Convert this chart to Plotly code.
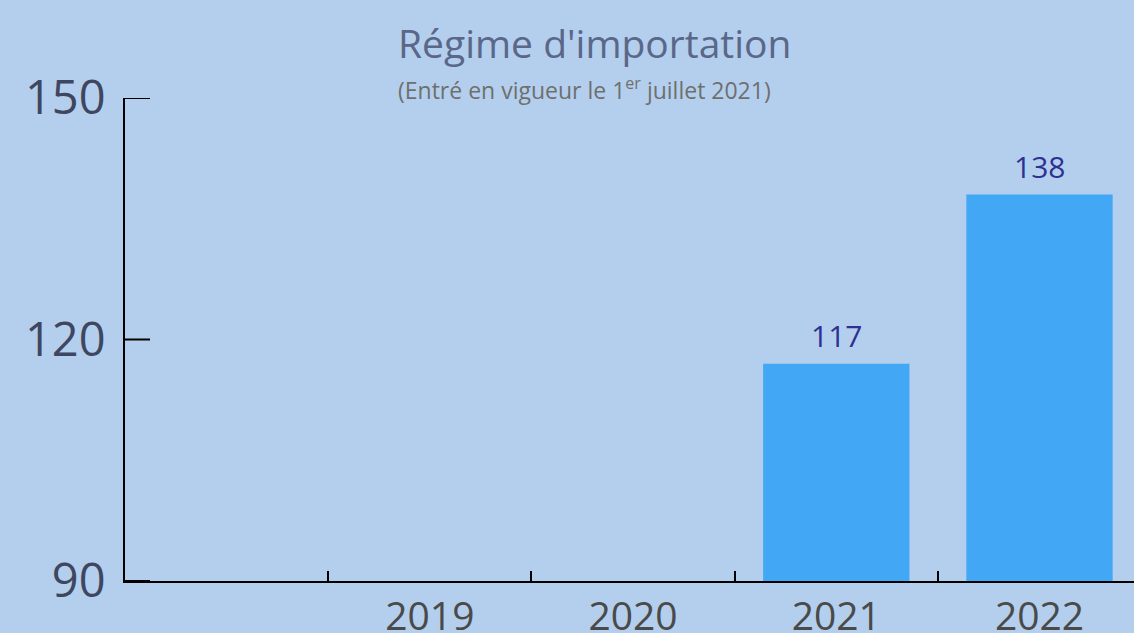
import plotly.graph_objects as go

# Data
categories = [" ", "2019", "2020", "2021", "2022"]
values = [None, None, None, 117, 138]
y_ticks = [90, 120, 150]

title_text = "Régime d'importation"
subtitle_text = "(Entré en vigueur le 1<sup>er</sup> juillet 2021)"

BG = "#b3cfed"
BAR = "#42a7f5"
FONT = "Open Sans"
W, H = 1134, 633
ML, MR, MT, MB = 125, 0, 98, 52

fig = go.Figure()
fig.add_trace(go.Bar(
    x=categories, y=values,
    marker=dict(color=BAR, line=dict(width=0)),
    hoverinfo="skip",
))

for i, v in enumerate(values):
    if v is not None:
        fig.add_annotation(
            x=i, y=v, xref="x", yref="y", text=str(v), showarrow=False,
            yanchor="bottom", yshift=6,
            font=dict(family=FONT, size=30, color="#2e3192"),
        )


def px_x(p):
    return (p - ML) / (W - ML - MR)


def px_y(p):
    return (H - p - MB) / (H - MT - MB)


fig.add_annotation(
    x=px_x(396), y=px_y(14), xref="paper", yref="paper", text=title_text,
    showarrow=False, xanchor="left", yanchor="top",
    font=dict(family=FONT, size=39, color="#5a6788"),
)
fig.add_annotation(
    x=px_x(396), y=px_y(70), xref="paper", yref="paper", text=subtitle_text,
    showarrow=False, xanchor="left", yanchor="top",
    font=dict(family=FONT, size=23, color="#6f6f6f"),
)

# inside tick marks on the y axis (drawn as shapes so the top one is not dropped)
for t in y_ticks:
    fig.add_shape(
        type="line", xref="paper", yref="y",
        x0=0, x1=px_x(ML + 25), y0=t, y1=t,
        line=dict(color="black", width=2),
    )

fig.update_layout(
    width=W, height=H,
    margin=dict(l=ML, r=MR, t=MT, b=MB, autoexpand=False),
    paper_bgcolor=BG, plot_bgcolor=BG,
    bargap=0.28,
    showlegend=False,
    xaxis=dict(
        type="category",
        categoryorder="array", categoryarray=categories,
        range=[-0.5, 4.465],
        showline=True, linecolor="black", linewidth=2,
        ticks="inside", ticklen=10, tickwidth=2, tickcolor="black",
        tickson="boundaries",
        showgrid=False, zeroline=False,
        tickfont=dict(family=FONT, size=39, color="#4a4a4a"),
        ticklabelstandoff=0,
    ),
    yaxis=dict(
        range=[90, 150],
        tickvals=y_ticks,
        showline=True, linecolor="black", linewidth=2,
        ticks="",
        showgrid=False, zeroline=False,
        tickfont=dict(family=FONT, size=47, color="#3e4660"),
        ticklabelstandoff=8,
    ),
)

fig.write_html(
    "out.html",
    config={"displayModeBar": False, "staticPlot": True},
    post_script="document.body.style.margin='0';document.body.style.overflow='hidden';",
)
